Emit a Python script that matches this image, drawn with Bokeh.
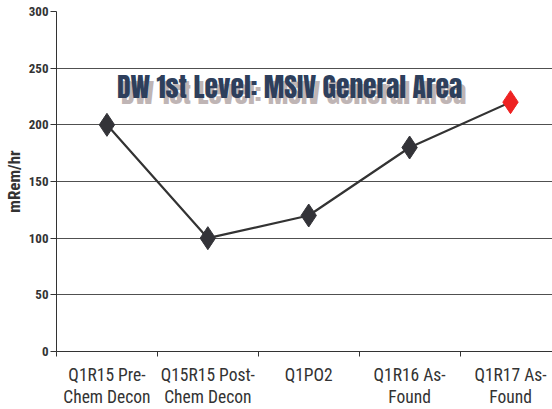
import subprocess
from bokeh.plotting import figure
from bokeh.models import FixedTicker, Label, Range1d
from bokeh.embed import file_html
from bokeh.resources import INLINE

# ---- data ----
categories = ["Q1R15 Pre-\nChem Decon", "Q15R15 Post-\nChem Decon", "Q1PO2",
              "Q1R16 As-\nFound", "Q1R17 As-\nFound"]
values = [200, 100, 120, 180, 220]
y_ticks = [0, 50, 100, 150, 200, 250, 300]
title_text = "DW 1st Level: MSIV General Area"
y_label = "mRem/hr"

xs = list(range(1, len(categories) + 1))

# pick a narrow sans (Arial Narrow look-alike) if present
fams = subprocess.run(["fc-list", ":", "family"], capture_output=True, text=True).stdout
narrow = None
for f in ["Liberation Sans Narrow", "Roboto Condensed", "Archivo Narrow",
          "PT Sans Narrow", "Open Sans Condensed"]:
    if f in fams:
        narrow = f
        break
if narrow:
    body_font, xl_size, yl_size, lab_size = narrow, "17.5px", "13px", "17px"
else:
    body_font, xl_size, yl_size, lab_size = "Liberation Sans", "15px", "11px", "14px"

W, H = 552, 409
LEFT, TOP, BOTTOM, RIGHT = 53, 11, 57, 0
frame_w = W - LEFT - RIGHT
cat_px = 101.5

p = figure(width=W, height=H, output_backend="svg", toolbar_location=None,
           min_border_left=LEFT, min_border_top=TOP, min_border_bottom=BOTTOM,
           min_border_right=RIGHT,
           x_range=Range1d(0.5, 0.5 + frame_w / cat_px), y_range=Range1d(0, 300))
p.outline_line_color = None
p.background_fill_color = "white"
p.border_fill_color = "white"

p.xgrid.grid_line_color = None
p.ygrid.grid_line_color = "#505050"
p.ygrid.grid_line_width = 1

# x axis: labels at category centres, ticks at category boundaries
xa = p.xaxis[0]
xa.ticker = FixedTicker(ticks=xs, minor_ticks=[x - 0.5 for x in xs] + [xs[-1] + 0.5])
xa.major_label_overrides = {x: c for x, c in zip(xs, categories)}
xa.major_tick_out = 0
xa.major_tick_in = 0
xa.minor_tick_out = 5
xa.minor_tick_in = 0
xa.minor_tick_line_color = "#333333"
xa.axis_line_color = "#333333"
xa.major_label_text_font = body_font
xa.major_label_text_font_size = xl_size
xa.major_label_text_color = "#333333"
xa.major_label_standoff = 8
xa.major_label_text_line_height = 1.1

# y axis
ya = p.yaxis[0]
ya.ticker = FixedTicker(ticks=y_ticks, minor_ticks=[])
ya.major_tick_out = 6
ya.major_tick_in = 0
ya.major_tick_line_color = "#333333"
ya.axis_line_color = "#333333"
ya.major_label_text_font = body_font
ya.major_label_text_font_style = "bold"
ya.major_label_text_font_size = yl_size
ya.major_label_text_color = "#333333"
ya.major_label_standoff = 2
ya.axis_label = y_label
ya.axis_label_text_font = body_font
ya.axis_label_text_font_style = "bold"
ya.axis_label_text_font_size = lab_size
ya.axis_label_text_color = "#333333"
ya.axis_label_standoff = 2

# line and markers
p.line(xs, values, line_color="#333333", line_width=2.2)
p.scatter(xs[:-1], values[:-1], marker="diamond", size=23, fill_color="#333338",
          line_color="#333338")
p.scatter(xs[-1:], values[-1:], marker="diamond", size=23, fill_color="#ee2222",
          line_color="#ee2222")

# title with drop shadow
title_font, title_size = "Anton", "27.5px"
TX, TY = 2.81, 227.9
p.add_layout(Label(x=TX, y=TY, text=title_text, x_offset=4, y_offset=1,
                   text_font=title_font, text_font_size=title_size,
                   text_color="#bfb5b5",
                   text_align="center", text_baseline="alphabetic"))
p.add_layout(Label(x=TX, y=TY, text=title_text, y_offset=7,
                   text_font=title_font, text_font_size=title_size,
                   text_color="#2e3f5c",
                   text_align="center", text_baseline="alphabetic"))

open("out.html", "w").write(file_html(p, INLINE))
